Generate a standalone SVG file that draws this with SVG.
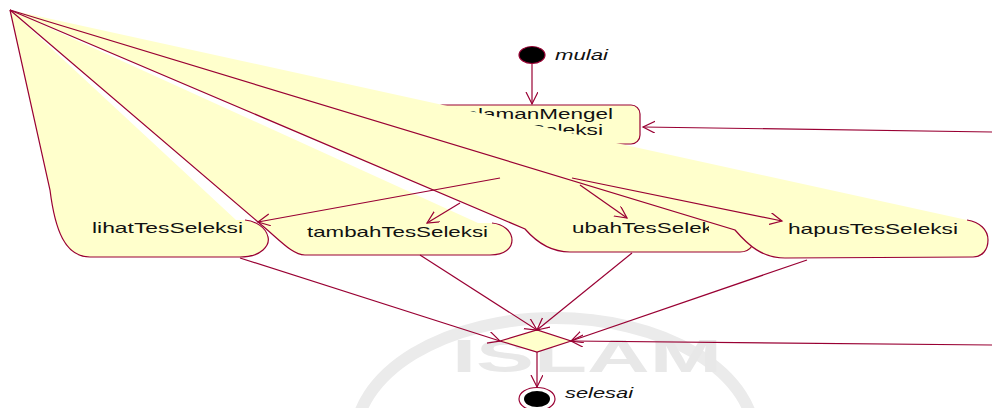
<svg xmlns="http://www.w3.org/2000/svg" width="992" height="408" viewBox="0 0 992 408">
<defs>
<style>
.fill{fill:#FFFFCC;stroke:none}
.out{fill:none;stroke:#990033;stroke-width:1.2}
.box{fill:#FFFFCC;stroke:#990033;stroke-width:1.2}
.lbl{font-family:"Liberation Sans",Arial,sans-serif;font-size:15px;fill:#111}
.it{font-style:italic}
.con{fill:none;stroke:#990033;stroke-width:1.2}
.wm{font-family:"Liberation Sans",Arial,sans-serif;font-weight:bold;fill:#e8e8e8}
</style>
<marker id="arr" markerUnits="userSpaceOnUse" markerWidth="14" markerHeight="14" refX="12" refY="6" orient="auto">
<path d="M0,0 L12,6 L0,12" fill="none" stroke="#990033" stroke-width="1.2"/>
</marker>
<clipPath id="ubahClip"><rect x="560" y="200" width="149" height="50"/></clipPath>
</defs>
<rect width="992" height="408" fill="#ffffff"/>
<g id="watermark">
<ellipse cx="555" cy="440" rx="200" ry="122" fill="none" stroke="#ebebeb" stroke-width="12"/>
<text class="wm" x="452" y="372" font-size="46" textLength="270" lengthAdjust="spacingAndGlyphs">ISLAM</text>
</g>
<g id="halaman">
<rect class="box" x="433" y="105" width="207" height="39" rx="9"/>
<text class="lbl" x="453" y="119" textLength="160" lengthAdjust="spacingAndGlyphs">halamanMengel</text>
<text class="lbl" x="464" y="135" textLength="139" lengthAdjust="spacingAndGlyphs">olaTesSeleksi</text>
</g>
<g id="lihat">
<path class="fill" d="M10,10 L50,190 C55,230 65,257 90,257 L240,257 C262,257 270,245 268,237 C266,227 255,221 245,220 L236,220 Z"/>
<path class="out" d="M10,10 L50,190 C55,230 65,257 90,257 L240,257 C262,257 270,245 268,237 C266,227 255,221 245,220"/>
<text class="lbl" x="92" y="233" textLength="151" lengthAdjust="spacingAndGlyphs">lihatTesSeleksi</text>
</g>
<g id="tambah">
<path class="fill" d="M10,10 L258,222 C280,240 292,255 305,255 L490,255 C505,255 512,248 512,240 C512,231 503,224 492,223 L478,223 Z"/>
<path class="out" d="M10,10 L258,222 C280,240 292,255 305,255 L490,255 C505,255 512,248 512,240 C512,231 503,224 492,223"/>
<text class="lbl" x="307" y="237" textLength="181" lengthAdjust="spacingAndGlyphs">tambahTesSeleksi</text>
</g>
<g id="ubah">
<path class="fill" d="M10,10 L525,229 Q545,252 570,252 L740,252 C752,252 760,245 760,237 C760,228 752,222 745,221 Z"/>
<path class="out" d="M10,10 L525,229 Q545,252 570,252 L740,252 C746,252 750,249 752,246"/>
<text class="lbl" x="572" y="233" textLength="157" lengthAdjust="spacingAndGlyphs" clip-path="url(#ubahClip)">ubahTesSeleksi</text>
</g>
<g id="hapus">
<path class="fill" d="M10,10 L967,220 C980,222 988,230 988,240 C988,250 982,257 973,257 L785,258 C762,258 748,245 735,230 Z"/>
<path class="out" d="M10,10 L735,230 C748,245 762,258 785,258 L973,257 C982,257 988,250 988,240 C988,230 980,222 967,220"/>
<text class="lbl" x="788" y="234" textLength="170" lengthAdjust="spacingAndGlyphs">hapusTesSeleksi</text>
</g>
<g id="start">
<ellipse cx="532" cy="55" rx="13" ry="8.5" fill="#000" stroke="#990033" stroke-width="1.2"/>
<text class="lbl it" x="555" y="60" textLength="53" lengthAdjust="spacingAndGlyphs">mulai</text>
</g>
<g id="decision">
<polygon points="500,341 537,330 571,341 537,352" fill="#FFFFCC" stroke="#990033" stroke-width="1.2"/>
</g>
<g id="end">
<ellipse cx="537" cy="399" rx="18" ry="11.5" fill="#fff" stroke="#990033" stroke-width="1.2"/>
<ellipse cx="537" cy="399" rx="13" ry="8" fill="#000"/>
<text class="lbl it" x="565" y="398" textLength="68" lengthAdjust="spacingAndGlyphs">selesai</text>
</g>
<g id="connectors">
<line class="con" x1="532" y1="64" x2="532" y2="104" marker-end="url(#arr)"/>
<line class="con" x1="992" y1="132" x2="643" y2="127" marker-end="url(#arr)"/>
<line class="con" x1="500" y1="178" x2="258" y2="222" marker-end="url(#arr)"/>
<line class="con" x1="460" y1="203" x2="427" y2="223" marker-end="url(#arr)"/>
<line class="con" x1="580" y1="185" x2="627" y2="218" marker-end="url(#arr)"/>
<line class="con" x1="572" y1="178" x2="782" y2="221" marker-end="url(#arr)"/>
<line class="con" x1="240" y1="258" x2="500" y2="341" marker-end="url(#arr)"/>
<line class="con" x1="420" y1="255" x2="537" y2="330" marker-end="url(#arr)"/>
<line class="con" x1="632" y1="253" x2="537" y2="330" marker-end="url(#arr)"/>
<line class="con" x1="807" y1="260" x2="571" y2="341" marker-end="url(#arr)"/>
<line class="con" x1="992" y1="345" x2="571" y2="341" marker-end="url(#arr)"/>
<line class="con" x1="537" y1="352" x2="537" y2="387" marker-end="url(#arr)"/>
</g>
</svg>
